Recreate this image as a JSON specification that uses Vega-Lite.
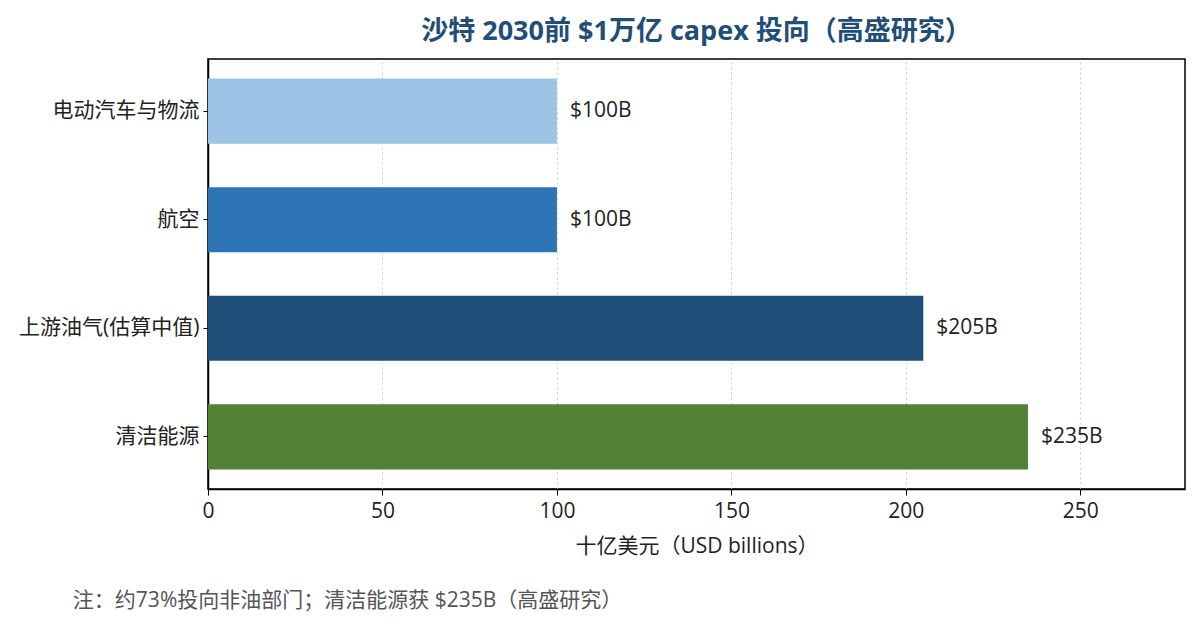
{
  "$schema": "https://vega.github.io/schema/vega-lite/v6.json",
  "background": "white",
  "padding": {"left": 17, "top": 17, "right": 10, "bottom": 12},
  "title": {
    "text": "注：约73%投向非油部门；清洁能源获 $235B（高盛研究）",
    "orient": "bottom",
    "anchor": "start",
    "frame": "bounds",
    "dx": 55,
    "offset": 33,
    "fontSize": 21,
    "fontWeight": "normal",
    "color": "#555555",
    "font": "Open Sans, Noto Sans CJK SC"
  },
  "data": {
    "values": [
      {"sector": "电动汽车与物流", "value": 100, "label": "$100B"},
      {"sector": "航空", "value": 100, "label": "$100B"},
      {"sector": "上游油气(估算中值)", "value": 205, "label": "$205B"},
      {"sector": "清洁能源", "value": 235, "label": "$235B"}
    ]
  },
  "vconcat": [
    {
      "width": 977,
      "height": 430,
      "title": {
        "text": "沙特 2030前 $1万亿 capex 投向（高盛研究）",
        "fontSize": 27,
        "fontWeight": "bold",
        "color": "#1F4E79",
        "anchor": "middle",
        "frame": "group",
        "offset": 13,
        "font": "Open Sans, Noto Sans CJK SC"
      },
      "encoding": {
        "y": {
          "field": "sector",
          "type": "nominal",
          "sort": null,
          "scale": {"paddingInner": 0.4, "paddingOuter": 0.18},
          "axis": {"title": null, "labelFontSize": 21, "labelLimit": 400, "tickSize": 5, "labelPadding": 4, "grid": false}
        },
        "x": {
          "field": "value",
          "type": "quantitative",
          "scale": {"domain": [0, 280], "nice": false},
          "axis": {
            "values": [0, 50, 100, 150, 200, 250],
            "title": "十亿美元（USD billions）",
            "titleFontSize": 21,
            "titleFontWeight": "normal",
            "titlePadding": 14,
            "labelFontSize": 21,
            "labelPadding": 5,
            "labelFlush": false,
            "tickSize": 6,
            "grid": true,
            "gridDash": [2, 3],
            "gridColor": "#cccccc",
            "gridWidth": 1
          }
        }
      },
      "layer": [
        {
          "mark": {"type": "bar"},
          "encoding": {
            "color": {
              "field": "sector",
              "type": "nominal",
              "scale": {
                "domain": ["电动汽车与物流", "航空", "上游油气(估算中值)", "清洁能源"],
                "range": ["#9DC3E6", "#2E75B6", "#1F4E79", "#548235"]
              },
              "legend": null
            }
          }
        },
        {
          "mark": {"type": "text", "align": "left", "baseline": "middle", "dx": 13, "fontSize": 21, "color": "#222222", "font": "Open Sans, Noto Sans CJK SC"},
          "encoding": {
            "text": {"field": "label", "type": "nominal"}
          }
        }
      ]
    }
  ],
  "config": {
    "font": "Open Sans, Noto Sans CJK SC",
    "view": {"stroke": "#000000", "strokeWidth": 1.5},
    "axis": {
      "domainColor": "#000000",
      "domainWidth": 1.5,
      "tickColor": "#000000",
      "labelColor": "#222222",
      "titleColor": "#222222",
      "labelFont": "Open Sans, Noto Sans CJK SC",
      "titleFont": "Open Sans, Noto Sans CJK SC"
    }
  }
}
